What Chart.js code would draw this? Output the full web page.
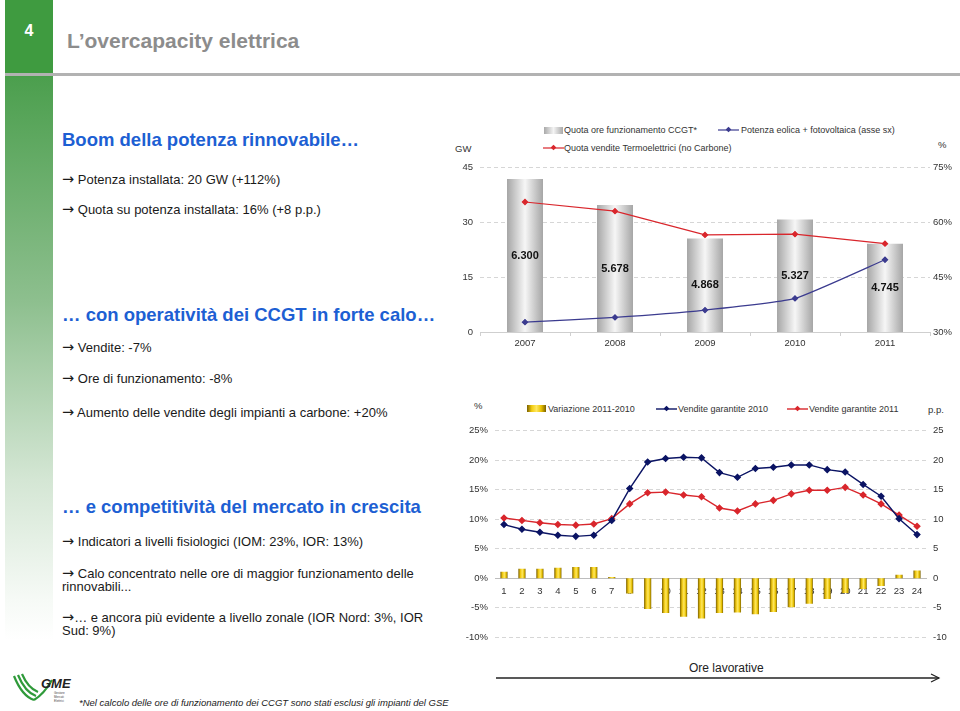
<!DOCTYPE html>
<html>
<head>
<meta charset="utf-8">
<script src="https://cdn.jsdelivr.net/npm/chart.js@4.4.1/dist/chart.umd.min.js"></script>
<style>
  html, body { margin: 0; padding: 0; background: #fff; }
  body { width: 960px; height: 711px; position: relative; overflow: hidden; font-family: "Liberation Sans", Arial, sans-serif; color: #222; }
  .abs { position: absolute; white-space: nowrap; }
  .side { position: absolute; left: 5px; top: 0; width: 48px; height: 640px;
          background: linear-gradient(to bottom, #3f9b40 0px, #3f9b40 72px, #4c9f4e 78px, #8dbf8e 300px, #d4e6d4 480px, #f6faf6 600px, #ffffff 640px); }
  .num { left: 5px; top: 22px; width: 48px; text-align: center; color: #fff; font-weight: bold; font-size: 16px; }
  .rule { position: absolute; left: 5px; top: 73px; width: 955px; height: 3px; background: #b2b2b2; }
  .title { left: 67px; top: 29px; font-size: 21px; font-weight: bold; color: #8c8c8c; }
  .head { font-size: 18.5px; font-weight: bold; color: #1d5fd3; }
  .txt { font-size: 13px; color: #1a1a1a; line-height: 13px; }
  .arr { font-family: "DejaVu Sans", sans-serif; font-size: 14.5px; line-height: 13px; }
  .lg { font-size: 9px; color: #333; }
  .ax { font-size: 9.5px; color: #333; }
</style>
</head>
<body>
<div class="side"></div>
<div class="abs num">4</div>
<div class="rule"></div>
<div class="abs title">L’overcapacity elettrica</div>

<div class="abs head" style="left:62px; top:129px;">Boom della potenza rinnovabile…</div>
<div class="abs txt" style="left:62px; top:173px;"><span class="arr">→</span> Potenza installata: 20 GW (+112%)</div>
<div class="abs txt" style="left:62px; top:203px;"><span class="arr">→</span> Quota su potenza installata: 16% (+8 p.p.)</div>

<div class="abs head" style="left:62px; top:304px;">… con operatività dei CCGT in forte calo…</div>
<div class="abs txt" style="left:62px; top:341px;"><span class="arr">→</span> Vendite: -7%</div>
<div class="abs txt" style="left:62px; top:372px;"><span class="arr">→</span> Ore di funzionamento: -8%</div>
<div class="abs txt" style="left:62px; top:406px;"><span class="arr">→</span> Aumento delle vendite degli impianti a carbone: +20%</div>

<div class="abs head" style="left:62px; top:496px;">… e competitività del mercato in crescita</div>
<div class="abs txt" style="left:62px; top:535px;"><span class="arr">→</span> Indicatori a livelli fisiologici (IOM: 23%, IOR: 13%)</div>
<div class="abs txt" style="left:62px; top:567px;"><span class="arr">→</span> Calo concentrato nelle ore di maggior funzionamento delle<br>rinnovabili...</div>
<div class="abs txt" style="left:62px; top:611px;"><span class="arr">→</span>… e ancora più evidente a livello zonale (IOR Nord: 3%, IOR<br>Sud: 9%)</div>

<svg class="abs" style="left:12px; top:672px;" width="62" height="34" viewBox="0 0 62 34">
  <path d="M2 4 Q10 24 22 28" stroke="#2f9a3a" stroke-width="2.2" fill="none"/>
  <path d="M6 3 Q13 20 24 24" stroke="#2f9a3a" stroke-width="2.2" fill="none"/>
  <path d="M10 2 Q16 16 26 20" stroke="#2f9a3a" stroke-width="2.2" fill="none"/>
  <path d="M22 28 Q32 22 40 8" stroke="#2f9a3a" stroke-width="2.2" fill="none"/>
  <text x="29" y="16" font-family="Liberation Sans" font-style="italic" font-weight="bold" font-size="13" fill="#222">GME</text>
  <text x="42" y="22" font-family="Liberation Sans" font-size="3" fill="#444">Gestore</text>
  <text x="42" y="26" font-family="Liberation Sans" font-size="3" fill="#444">Mercati</text>
  <text x="42" y="30" font-family="Liberation Sans" font-size="3" fill="#444">Elettrici</text>
</svg>
<div class="abs" style="left:79px; top:697px; font-size:9.5px; font-style:italic; color:#222;">*Nel calcolo delle ore di funzionamento dei CCGT sono stati esclusi gli impianti del GSE</div>

<!-- top chart legend / axis titles -->
<div class="abs" style="left:544px; top:127px; width:19px; height:7px; background:linear-gradient(to right,#a9a9a9,#f4f4f4,#a9a9a9);"></div>
<div class="abs lg" style="left:564px; top:125px;">Quota ore funzionamento CCGT*</div>
<svg class="abs" style="left:718px; top:126px;" width="22" height="8"><line x1="0" y1="4" x2="21" y2="4" stroke="#3b3b8f" stroke-width="1.2"/><rect x="8.5" y="1.5" width="4" height="4" transform="rotate(45 10.5 3.5)" fill="#3b3b8f"/></svg>
<div class="abs lg" style="left:741px; top:125px;">Potenza eolica + fotovoltaica (asse sx)</div>
<svg class="abs" style="left:543px; top:144px;" width="22" height="8"><line x1="0" y1="4" x2="21" y2="4" stroke="#d9262c" stroke-width="1.2"/><rect x="8.5" y="1.5" width="4" height="4" transform="rotate(45 10.5 3.5)" fill="#d9262c"/></svg>
<div class="abs lg" style="left:564px; top:143px;">Quota vendite Termoelettrici (no Carbone)</div>
<div class="abs ax" style="left:455px; top:143px;">GW</div>
<div class="abs ax" style="left:938px; top:139px;">%</div>

<!-- bottom chart legend / axis titles -->
<div class="abs ax" style="left:474px; top:400px;">%</div>
<div class="abs" style="left:527px; top:405px; width:19px; height:7px; background:linear-gradient(to right,#7a6000,#f2cc10,#ffe860,#e8c000,#7a6000);"></div>
<div class="abs lg" style="left:548px; top:404px;">Variazione 2011-2010</div>
<svg class="abs" style="left:656px; top:405px;" width="22" height="8"><line x1="0" y1="4" x2="21" y2="4" stroke="#0b1464" stroke-width="1.4"/><rect x="8.5" y="1.5" width="4" height="4" transform="rotate(45 10.5 3.5)" fill="#0b1464"/></svg>
<div class="abs lg" style="left:678px; top:404px;">Vendite garantite 2010</div>
<svg class="abs" style="left:787px; top:405px;" width="22" height="8"><line x1="0" y1="4" x2="21" y2="4" stroke="#d9262c" stroke-width="1.4"/><rect x="8.5" y="1.5" width="4" height="4" transform="rotate(45 10.5 3.5)" fill="#d9262c"/></svg>
<div class="abs lg" style="left:809px; top:404px;">Vendite garantite 2011</div>
<div class="abs ax" style="left:928px; top:404px;">p.p.</div>

<div class="abs" style="left:689px; top:661px; font-size:12px; color:#222;">Ore lavorative</div>
<svg class="abs" style="left:494px; top:672px;" width="450" height="12">
  <line x1="2" y1="6" x2="445" y2="6" stroke="#222" stroke-width="1.4"/>
  <polyline points="437,2 445,6 437,10" stroke="#222" stroke-width="1.2" fill="none"/>
</svg>

<canvas id="topChart" class="abs" style="left:440px; top:155px;" width="520" height="200"></canvas>
<canvas id="bottomChart" class="abs" style="left:440px; top:418px;" width="520" height="232"></canvas>

<script>
// --- top chart data ---
const years = ['2007', '2008', '2009', '2010', '2011'];
const quotaOreCCGT = [71.9, 64.8, 55.6, 60.8, 54.2];          // % (right axis)
const oreCCGTLabels = ['6.300', '5.678', '4.868', '5.327', '4.745'];
const quotaVenditeTermo = [65.6, 63.1, 56.6, 56.8, 54.2];     // % (right axis)
const potenzaEolicaFV = [2.7, 4.0, 6.0, 9.2, 19.8];           // GW (left axis)
const gwTicks = [0, 15, 30, 45];
const pctTicks = [30, 45, 60, 75];

// --- bottom chart data ---
const hours = ['1','2','3','4','5','6','7','8','9','10','11','12','13','14','15','16','17','18','19','20','21','22','23','24'];
const variazione = [1.1, 1.6, 1.6, 1.8, 1.9, 1.9, 0.2, -2.6, -5.2, -5.9, -6.5, -6.8, -5.9, -5.8, -6.1, -5.7, -4.9, -4.3, -3.5, -2.5, -1.8, -1.3, 0.6, 1.3];
const vendite2010 = [9.1, 8.3, 7.8, 7.3, 7.1, 7.3, 9.8, 15.2, 19.7, 20.3, 20.5, 20.4, 17.9, 17.1, 18.6, 18.8, 19.2, 19.2, 18.4, 18.0, 15.9, 13.9, 10.1, 7.4];
const vendite2011 = [10.2, 9.8, 9.4, 9.1, 9.0, 9.2, 10.1, 12.6, 14.5, 14.6, 14.1, 13.8, 11.9, 11.4, 12.6, 13.2, 14.3, 14.9, 14.9, 15.4, 14.1, 12.6, 10.7, 8.8];

const FONT = "'Liberation Sans', Arial, sans-serif";
Chart.defaults.font.family = FONT;
Chart.defaults.color = '#333';

// horizontal "cylinder" gradient across each bar
function cylinder(stops, frac) {
  return (c) => {
    const chart = c.chart, sx = chart.scales.x;
    if (!chart.chartArea || !sx || c.dataIndex === undefined) return stops[1][1];
    const x = sx.getPixelForValue(c.dataIndex);
    const half = sx.width / chart.data.labels.length * frac / 2;
    const g = chart.ctx.createLinearGradient(x - half, 0, x + half, 0);
    stops.forEach(s => g.addColorStop(s[0], s[1]));
    return g;
  };
}

const fixWidth = w => (scale) => { scale.width = w; };
const fixHeight = h => (scale) => { scale.height = h; };

// hour labels in the middle of the CCGT bars
const barLabels = {
  id: 'barLabels',
  afterDatasetsDraw(chart) {
    const ctx = chart.ctx;
    const idx = chart.data.datasets.findIndex(d => d.type === 'bar');
    const meta = chart.getDatasetMeta(idx);
    const bottom = chart.chartArea.bottom;
    ctx.save();
    ctx.font = "bold 11px " + FONT;
    ctx.fillStyle = '#111';
    ctx.textAlign = 'center';
    ctx.textBaseline = 'middle';
    meta.data.forEach((el, i) => ctx.fillText(oreCCGTLabels[i], el.x, (el.y + Math.min(el.base, bottom)) / 2));
    ctx.restore();
  }
};

const dashGrid = { color: '#d6d6d6', lineWidth: 1, drawTicks: false };

new Chart(document.getElementById('topChart'), {
  data: {
    labels: years,
    datasets: [
      { type: 'line', label: 'Potenza eolica + fotovoltaica (asse sx)', data: potenzaEolicaFV, yAxisID: 'y',
        borderColor: '#3b3b8f', backgroundColor: '#3b3b8f', borderWidth: 1.2, pointStyle: 'rectRot', pointRadius: 2.6, tension: 0.15 },
      { type: 'line', label: 'Quota vendite Termoelettrici (no Carbone)', data: quotaVenditeTermo, yAxisID: 'y1',
        borderColor: '#d9262c', backgroundColor: '#d9262c', borderWidth: 1.2, pointStyle: 'rectRot', pointRadius: 2.6 },
      { type: 'bar', label: 'Quota ore funzionamento CCGT*', data: quotaOreCCGT, yAxisID: 'y1', order: 2,
        backgroundColor: cylinder([[0, '#a6a6a6'], [0.5, '#f6f6f6'], [1, '#a6a6a6']], 0.4),
        categoryPercentage: 0.8, barPercentage: 0.5 }
    ]
  },
  options: {
    responsive: false,
    animation: false,
    layout: { padding: { top: 8, left: 0, right: 0, bottom: 0 } },
    plugins: { legend: { display: false }, tooltip: { enabled: false } },
    scales: {
      x: {
        afterFit: fixHeight(23),
        grid: { display: true, drawOnChartArea: false, drawTicks: true, tickLength: 4, color: '#d0d0d0' },
        border: { color: '#cfcfcf' },
        ticks: { font: { size: 9.5 }, color: '#333', padding: 2 }
      },
      y: {
        position: 'left', min: 0, max: 45,
        afterFit: fixWidth(40),
        afterBuildTicks: (s) => { s.ticks = gwTicks.map(v => ({ value: v })); },
        grid: dashGrid, border: { display: false, dash: [4, 3] },
        ticks: { font: { size: 9.5 }, color: '#333', padding: 7 }
      },
      y1: {
        position: 'right', min: 30, max: 75,
        afterFit: fixWidth(30),
        afterBuildTicks: (s) => { s.ticks = pctTicks.map(v => ({ value: v })); },
        grid: { display: false, drawTicks: false }, border: { display: false },
        ticks: { font: { size: 9.5 }, color: '#333', padding: 3, callback: v => v + '%' }
      }
    }
  },
  plugins: [barLabels]
});

new Chart(document.getElementById('bottomChart'), {
  data: {
    labels: hours,
    datasets: [
      { type: 'line', label: 'Vendite garantite 2010', data: vendite2010, yAxisID: 'y',
        borderColor: '#0b1464', backgroundColor: '#0b1464', borderWidth: 1.4, pointStyle: 'rectRot', pointRadius: 2.8 },
      { type: 'line', label: 'Vendite garantite 2011', data: vendite2011, yAxisID: 'y',
        borderColor: '#d9262c', backgroundColor: '#d9262c', borderWidth: 1.4, pointStyle: 'rectRot', pointRadius: 2.8 },
      { type: 'bar', label: 'Variazione 2011-2010', data: variazione, yAxisID: 'y1', order: 2,
        backgroundColor: cylinder([[0, '#7a6000'], [0.3, '#f0c810'], [0.55, '#ffe860'], [0.8, '#e6bf00'], [1, '#7a6000']], 0.4),
        categoryPercentage: 0.8, barPercentage: 0.5 }
    ]
  },
  options: {
    responsive: false,
    animation: false,
    layout: { padding: { top: 11, left: 0, right: 0, bottom: 9 } },
    plugins: { legend: { display: false }, tooltip: { enabled: false } },
    scales: {
      x: {
        position: { y: 0 },
        grid: { display: false, drawTicks: false },
        border: { color: '#bdbdbd' },
        ticks: { font: { size: 9.5 }, color: '#333', padding: 7, autoSkip: false, maxRotation: 0 }
      },
      y: {
        position: 'left', min: -10, max: 25,
        afterFit: fixWidth(55),
        ticks: { stepSize: 5, font: { size: 9.5 }, color: '#333', padding: 7, callback: v => v + '%' },
        grid: dashGrid, border: { display: false, dash: [4, 3] }
      },
      y1: {
        position: 'right', min: -10, max: 25,
        afterFit: fixWidth(34),
        ticks: { stepSize: 5, font: { size: 9.5 }, color: '#333', padding: 7 },
        grid: { display: false, drawTicks: false }, border: { display: false }
      }
    }
  }
});
</script>
</body>
</html>
